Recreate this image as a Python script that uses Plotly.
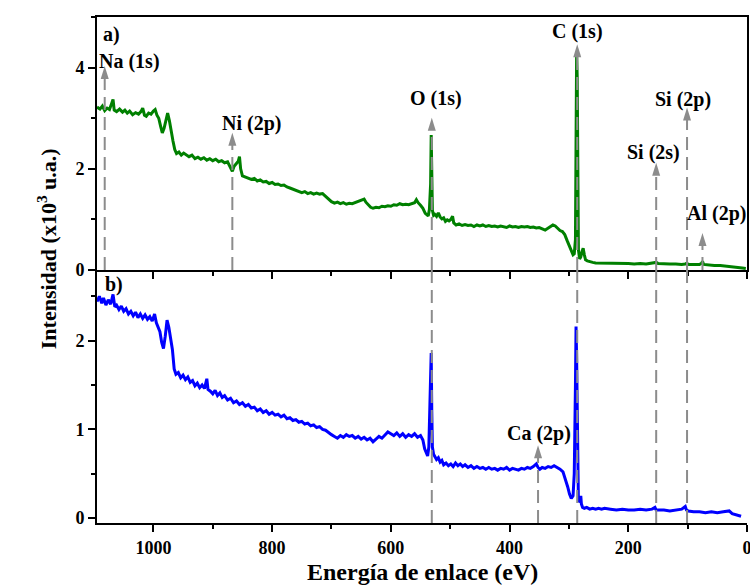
import plotly.graph_objects as go

# ---------------- data (binding energy in eV, intensity in 10^3 a.u.) ----------------
E_a = [1095, 1090, 1086, 1082, 1078, 1074, 1070, 1068, 1066, 1062, 1057, 1052, 1048, 1044, 1040, 1035, 1030, 1025,
       1021, 1018, 1015, 1012, 1008, 1004, 1000, 997, 994, 991, 988, 985, 982, 979, 976, 973, 970, 967, 964, 961,
       957, 953, 949, 945, 940, 935, 930, 925, 920, 915, 910, 905, 900, 895, 890, 885, 880, 875, 870, 867, 864,
       860, 857, 855, 853, 850, 845, 840, 835, 830, 825, 820, 815, 810, 805, 800, 795, 790, 785, 780, 775, 770,
       765, 760, 755, 750, 745, 740, 735, 730, 725, 720, 715, 710, 705, 700, 695, 690, 685, 680, 675, 670, 665,
       660, 655, 650, 645, 642, 638, 634, 630, 625, 620, 615, 610, 605, 600, 595, 590, 585, 580, 575, 570, 565,
       560, 557, 554, 550, 546, 542, 539, 537, 535, 533, 532, 531, 530, 528, 526, 523, 520, 517, 514, 511, 508,
       505, 502, 499, 496, 494, 490, 485, 480, 475, 470, 465, 460, 455, 450, 445, 440, 435, 430, 425, 420, 415,
       410, 405, 400, 395, 390, 385, 380, 375, 370, 365, 360, 355, 350, 345, 340, 336, 331, 327, 323, 319, 315,
       311, 307, 303, 299, 296, 293, 291, 289, 288, 287, 286, 285, 284, 282, 280, 278, 276, 274, 272, 269, 265,
       260, 255, 250, 245, 240, 230, 220, 210, 200, 190, 180, 170, 160, 155, 153, 150, 140, 130, 120, 110, 104,
       102, 98, 90, 80, 76, 75, 73, 65, 55, 45, 35, 25, 15, 8, 2]
I_a = [3.22, 3.18, 3.24, 3.15, 3.20, 3.17, 3.30, 3.37, 3.16, 3.13, 3.18, 3.12, 3.16, 3.10, 3.14, 3.07, 3.11, 3.08,
       3.13, 3.20, 3.06, 3.04, 3.10, 3.08, 3.14, 3.17, 3.06, 3.00, 2.85, 2.71, 2.80, 2.98, 3.10, 2.95, 2.70, 2.55,
       2.38, 2.30, 2.33, 2.27, 2.31, 2.28, 2.24, 2.27, 2.20, 2.23, 2.19, 2.22, 2.17, 2.20, 2.16, 2.19, 2.14, 2.16,
       2.12, 2.14, 2.02, 1.95, 2.05, 2.10, 2.15, 2.24, 2.00, 1.86, 1.84, 1.82, 1.79, 1.81, 1.76, 1.78, 1.74, 1.75,
       1.71, 1.73, 1.69, 1.70, 1.67, 1.68, 1.64, 1.62, 1.60, 1.58, 1.56, 1.53, 1.55, 1.51, 1.53, 1.50, 1.52, 1.50,
       1.51, 1.45, 1.40, 1.35, 1.32, 1.34, 1.31, 1.33, 1.30, 1.32, 1.31, 1.33, 1.35, 1.37, 1.40, 1.34, 1.28, 1.24,
       1.22, 1.24, 1.23, 1.26, 1.25, 1.27, 1.26, 1.29, 1.28, 1.31, 1.29, 1.30, 1.29, 1.31, 1.33, 1.39, 1.33, 1.28,
       1.22, 1.12, 1.08, 1.07, 1.20, 1.70, 2.67, 1.55, 1.18, 1.08, 1.10, 1.06, 1.13, 1.05, 1.01, 1.03, 0.96, 0.99,
       0.97, 1.00, 1.06, 0.93, 0.89, 0.91, 0.88, 0.90, 0.88, 0.89, 0.86, 0.89, 0.87, 0.89, 0.86, 0.88, 0.86, 0.87,
       0.85, 0.87, 0.86, 0.84, 0.87, 0.85, 0.86, 0.84, 0.86, 0.85, 0.86, 0.84, 0.85, 0.83, 0.84, 0.81, 0.79, 0.82,
       0.86, 0.89, 0.87, 0.82, 0.78, 0.76, 0.70, 0.58, 0.47, 0.38, 0.30, 0.32, 0.60, 2.50, 4.30, 3.80, 1.20, 0.40,
       0.22, 0.26, 0.36, 0.43, 0.30, 0.20, 0.18, 0.16, 0.15, 0.14, 0.14, 0.13, 0.14, 0.13, 0.14, 0.13, 0.13, 0.12,
       0.13, 0.12, 0.13, 0.14, 0.15, 0.13, 0.12, 0.12, 0.12, 0.11, 0.12, 0.13, 0.11, 0.11, 0.11, 0.14, 0.17, 0.11,
       0.10, 0.09, 0.09, 0.08, 0.07, 0.06, 0.04, 0.03]

E_b = [1095, 1091, 1087, 1084, 1080, 1076, 1072, 1068, 1065, 1062, 1058, 1054, 1050, 1046, 1042, 1038, 1034, 1030,
       1026, 1022, 1018, 1014, 1010, 1006, 1002, 998, 995, 992, 989, 986, 983, 980, 977, 974, 971, 968, 965, 962,
       958, 954, 950, 946, 942, 938, 934, 930, 926, 922, 918, 914, 910, 908, 904, 900, 896, 892, 888, 884, 880,
       875, 870, 865, 860, 855, 850, 845, 840, 835, 830, 825, 820, 815, 810, 805, 800, 795, 790, 785, 780, 775,
       770, 765, 760, 755, 750, 745, 740, 735, 730, 725, 720, 715, 710, 705, 700, 695, 690, 685, 680, 675, 670,
       665, 660, 655, 650, 645, 640, 635, 630, 625, 620, 615, 610, 605, 600, 595, 590, 585, 580, 575, 570, 565,
       560, 555, 550, 546, 543, 540, 538, 536, 534, 533, 532, 531, 530, 528, 526, 523, 520, 517, 514, 511, 507,
       503, 499, 495, 491, 487, 483, 479, 475, 470, 465, 460, 455, 450, 445, 440, 435, 430, 425, 420, 415, 410,
       405, 400, 395, 390, 385, 380, 375, 370, 365, 360, 355, 352, 349, 345, 340, 335, 330, 325, 320, 315, 310,
       306, 302, 299, 296, 293, 291, 289, 288, 287, 286, 285, 284, 282, 280, 279, 277, 274, 270, 265, 260, 255,
       250, 245, 240, 230, 220, 210, 200, 190, 180, 170, 160, 155, 153, 150, 140, 130, 120, 110, 104, 102, 99,
       90, 80, 70, 60, 50, 40, 30, 25, 20, 10, 3]
I_b = [2.44, 2.50, 2.42, 2.48, 2.40, 2.46, 2.41, 2.52, 2.38, 2.40, 2.35, 2.39, 2.33, 2.36, 2.30, 2.33, 2.28, 2.32,
       2.26, 2.30, 2.25, 2.29, 2.24, 2.27, 2.22, 2.30, 2.20, 2.14, 2.10, 1.98, 1.91, 2.05, 2.23, 2.15, 2.04, 1.90,
       1.68, 1.62, 1.64, 1.58, 1.61, 1.56, 1.59, 1.53, 1.55, 1.49, 1.52, 1.47, 1.50, 1.46, 1.57, 1.45, 1.43, 1.40,
       1.44, 1.38, 1.41, 1.36, 1.38, 1.33, 1.35, 1.30, 1.32, 1.28, 1.30, 1.26, 1.28, 1.24, 1.25, 1.21, 1.23, 1.19,
       1.21, 1.17, 1.19, 1.16, 1.17, 1.14, 1.16, 1.12, 1.13, 1.10, 1.11, 1.08, 1.09, 1.06, 1.07, 1.04, 1.05, 1.02,
       1.03, 1.00, 0.99, 0.96, 0.94, 0.92, 0.90, 0.93, 0.91, 0.94, 0.92, 0.93, 0.90, 0.92, 0.89, 0.91, 0.88, 0.90,
       0.86, 0.89, 0.92, 0.90, 0.94, 0.97, 0.95, 0.93, 0.96, 0.92, 0.95, 0.91, 0.94, 0.92, 0.95, 0.91, 0.93, 0.88,
       0.78, 0.72, 0.70, 0.80, 1.30, 1.60, 1.86, 1.20, 0.80, 0.72, 0.70, 0.66, 0.68, 0.63, 0.65, 0.60, 0.62, 0.59,
       0.61, 0.58, 0.62, 0.59, 0.61, 0.58, 0.60, 0.57, 0.59, 0.56, 0.58, 0.56, 0.57, 0.55, 0.57, 0.55, 0.56, 0.54,
       0.56, 0.55, 0.57, 0.54, 0.56, 0.55, 0.54, 0.56, 0.55, 0.57, 0.56, 0.58, 0.61, 0.57, 0.55, 0.57, 0.56, 0.58,
       0.57, 0.59, 0.57, 0.55, 0.52, 0.44, 0.35, 0.27, 0.22, 0.25, 0.50, 1.50, 2.16, 1.80, 0.90, 0.30, 0.18, 0.20,
       0.25, 0.16, 0.12, 0.11, 0.12, 0.10, 0.11, 0.10, 0.11, 0.10, 0.11, 0.10, 0.09, 0.10, 0.09, 0.09, 0.10, 0.09,
       0.10, 0.12, 0.09, 0.09, 0.09, 0.08, 0.09, 0.10, 0.13, 0.09, 0.08, 0.07, 0.07, 0.06, 0.07, 0.06, 0.07, 0.08,
       0.05, 0.04, 0.02]

# peak markers (top panel a)
peak_names_a = ["Na (1s)", "Ni (2p)", "O (1s)", "C (1s)", "Si (2s)", "Si (2p)", "Al (2p)"]
peak_E_a = [1082, 867, 531, 286, 153, 101, 75]
peak_tip_a = [4.03, 2.71, 3.01, 4.46, 2.12, 3.21, 0.73]
peak_in_b = [False, False, True, True, True, True, False]   # dashed line continues through panel b
label_E_a = [1095, 834, 524, 286, 157, 107, 51]
label_I_a = [4.12, 2.89, 3.39, 4.71, 2.32, 3.37, 1.11]
label_anchor_a = ["left", "center", "center", "center", "center", "center", "center"]

# peak marker (bottom panel b)
peak_names_b = ["Ca (2p)"]
peak_E_b = [352]
peak_tip_b = [0.82]
label_E_b = [351]
label_I_b = [0.95]

x_range = [1095, 0]
ya_range = [0, 5.0]
yb_range = [-0.056, 2.796]

FONT = "Liberation Serif"
GRAY = "#8c8c8c"
DASH = "13px,7px"
ARROW_PATH = "M-4,-13 L4,-13 L0,0 Z"

fig = go.Figure()
fig.add_trace(go.Scatter(x=E_a, y=I_a, mode="lines", line=dict(color="#008000", width=3),
                         xaxis="x2", yaxis="y", showlegend=False, hoverinfo="skip"))
fig.add_trace(go.Scatter(x=E_b, y=I_b, mode="lines", line=dict(color="#0000FF", width=3),
                         xaxis="x", yaxis="y2", showlegend=False, hoverinfo="skip"))

# dashed guide lines + arrow heads
for E, tip, inb in zip(peak_E_a, peak_tip_a, peak_in_b):
    fig.add_shape(type="line", xref="x2", yref="y", x0=E, x1=E, y0=ya_range[0], y1=tip - 0.2,
                  line=dict(color=GRAY, width=2, dash=DASH), layer="above")
    fig.add_shape(type="path", xref="x2", yref="y", xsizemode="pixel", ysizemode="pixel",
                  xanchor=E, yanchor=tip, path=ARROW_PATH, fillcolor=GRAY,
                  line=dict(width=0), layer="above")
    if inb:
        fig.add_shape(type="line", xref="x", yref="y2 domain", x0=E, x1=E, y0=0, y1=1,
                      line=dict(color=GRAY, width=2, dash=DASH), layer="above")
for E, tip in zip(peak_E_b, peak_tip_b):
    fig.add_shape(type="line", xref="x", yref="y2", x0=E, x1=E, y0=yb_range[0], y1=tip - 0.1,
                  line=dict(color=GRAY, width=2, dash=DASH), layer="above")
    fig.add_shape(type="path", xref="x", yref="y2", xsizemode="pixel", ysizemode="pixel",
                  xanchor=E, yanchor=tip, path=ARROW_PATH, fillcolor=GRAY,
                  line=dict(width=0), layer="above")

lab_font = dict(family=FONT, size=20, color="black", weight="bold")
for name, xe, yi, anc in zip(peak_names_a, label_E_a, label_I_a, label_anchor_a):
    fig.add_annotation(x=xe, y=yi, xref="x2", yref="y", text=name, showarrow=False,
                       xanchor=anc, yanchor="middle", font=lab_font)
for name, xe, yi in zip(peak_names_b, label_E_b, label_I_b):
    fig.add_annotation(x=xe, y=yi, xref="x", yref="y2", text=name, showarrow=False,
                       xanchor="center", yanchor="middle", font=lab_font)

fig.add_annotation(x=1088, y=4.65, xref="x2", yref="y", text="a)", showarrow=False,
                   xanchor="left", yanchor="middle", font=lab_font)
fig.add_annotation(x=1085, y=2.63, xref="x", yref="y2", text="b)", showarrow=False,
                   xanchor="left", yanchor="middle", font=lab_font)

fig.add_annotation(x=-0.077, y=0.543, xref="paper", yref="paper", text="Intensidad (x10<sup>3</sup> u.a.)",
                   textangle=-90, showarrow=False, xanchor="center", yanchor="middle",
                   font=dict(family=FONT, size=22, color="black", weight="bold"))
fig.add_annotation(x=0.5, y=-0.097, xref="paper", yref="paper", text="Energía de enlace (eV)",
                   showarrow=False, xanchor="center", yanchor="middle",
                   font=dict(family=FONT, size=24, color="black", weight="bold"))

tick_font = dict(family=FONT, size=18, color="black", weight="bold")
common_x = dict(range=x_range, dtick=200, tick0=0, ticks="outside", ticklen=7, tickwidth=2, tickcolor="black",
                showline=True, linewidth=2, linecolor="black", showgrid=False, zeroline=False, automargin=False,
                ticklabeloverflow="allow",
                minor=dict(dtick=100, tick0=0, ticks="outside", ticklen=4, tickwidth=2, tickcolor="black",
                           showgrid=False),
                tickfont=tick_font)
common_y = dict(ticks="outside", ticklen=7, tickwidth=2, tickcolor="black", automargin=False,
                showline=True, linewidth=2, linecolor="black", showgrid=False, zeroline=False,
                ticklabeloverflow="allow", tickfont=tick_font)

fig.update_layout(
    template="none",
    width=750, height=588, autosize=False,
    margin=dict(l=97, r=3, t=17, b=65, pad=0),
    paper_bgcolor="white", plot_bgcolor="white",
    showlegend=False,
    xaxis=dict(domain=[0, 1], anchor="y2", **common_x),
    xaxis2=dict(domain=[0, 1], anchor="y", matches="x", showticklabels=False, mirror=True, **common_x),
    yaxis=dict(domain=[0.5, 1], anchor="x2", range=ya_range, dtick=2, tick0=0, mirror=True,
               minor=dict(dtick=1, tick0=0, ticks="outside", ticklen=4, tickwidth=2, tickcolor="black",
                          showgrid=False),
               **common_y),
    yaxis2=dict(domain=[0, 0.5], anchor="x", range=yb_range, dtick=1, tick0=0,
                minor=dict(dtick=0.5, tick0=0, ticks="outside", ticklen=4, tickwidth=2, tickcolor="black",
                           showgrid=False),
                **common_y),
)

fig.write_html("out.html", config={"displayModeBar": False},
               post_script="document.body.style.margin='0px';document.body.style.overflow='hidden';")
